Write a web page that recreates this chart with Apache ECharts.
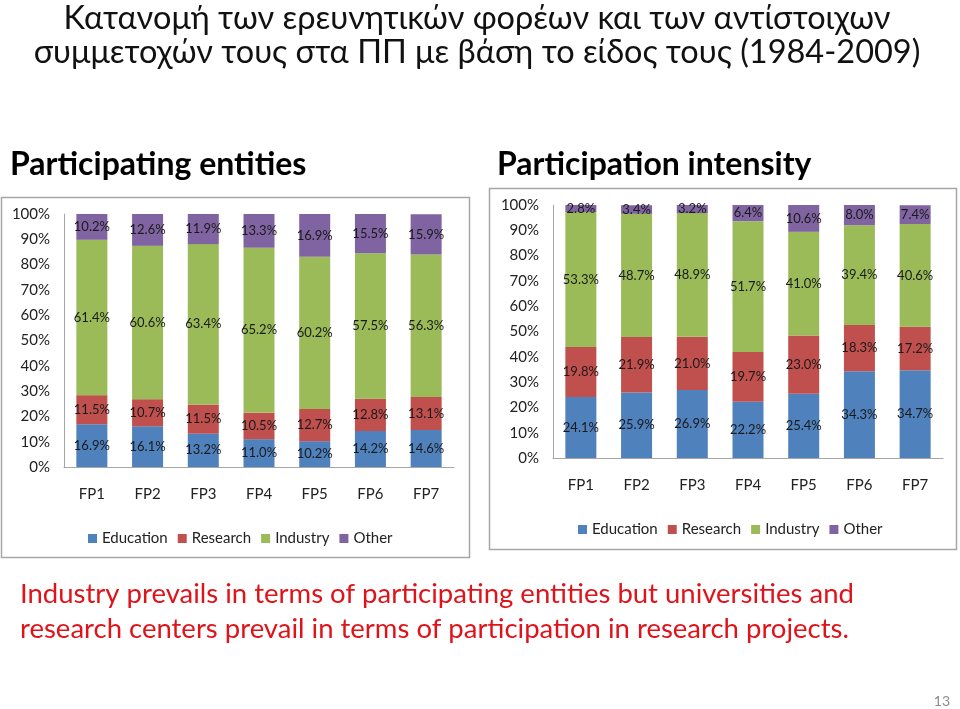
<!DOCTYPE html>
<html>
<head>
<meta charset="utf-8">
<script src="https://cdn.jsdelivr.net/npm/echarts@6/dist/echarts.min.js"></script>
<style>
html,body{margin:0;padding:0;background:#fff;}
#main{width:960px;height:709px;}
</style>
</head>
<body>
<div id="main"></div>
<script>
// ---- data ----
var categories = ['FP1', 'FP2', 'FP3', 'FP4', 'FP5', 'FP6', 'FP7'];
var seriesNames = ['Education', 'Research', 'Industry', 'Other'];
var yTicks = [0, 10, 20, 30, 40, 50, 60, 70, 80, 90, 100];

// Participating entities (%)
var entEducation = [16.9, 16.1, 13.2, 11.0, 10.2, 14.2, 14.6];
var entResearch  = [11.5, 10.7, 11.5, 10.5, 12.7, 12.8, 13.1];
var entIndustry  = [61.4, 60.6, 63.4, 65.2, 60.2, 57.5, 56.3];
var entOther     = [10.2, 12.6, 11.9, 13.3, 16.9, 15.5, 15.9];

// Participation intensity (%)
var intEducation = [24.1, 25.9, 26.9, 22.2, 25.4, 34.3, 34.7];
var intResearch  = [19.8, 21.9, 21.0, 19.7, 23.0, 18.3, 17.2];
var intIndustry  = [53.3, 48.7, 48.9, 51.7, 41.0, 39.4, 40.6];
var intOther     = [2.8, 3.4, 3.2, 6.4, 10.6, 8.0, 7.4];

var titleLine1 = 'Κατανομή των ερευνητικών φορέων και των αντίστοιχων';
var titleLine2 = 'συμμετοχών τους στα ΠΠ με βάση το είδος τους (1984-2009)';
var leftTitle = 'Participating entities';
var rightTitle = 'Participation intensity';
var note1 = 'Industry prevails in terms of participating entities but universities and';
var note2 = 'research centers prevail in terms of participation in research projects.';
var pageNo = '13';

// ---- styling ----
var colors = ['#4F81BD', '#C0504D', '#9BBB59', '#8064A2'];
var FONT = 'Lato, "Open Sans", sans-serif';

function makeSeries(name, data, idx, color) {
  return {
    name: name,
    type: 'bar',
    stack: 'total' + idx,
    xAxisIndex: idx,
    yAxisIndex: idx,
    data: data,
    barWidth: 31,
    itemStyle: { color: color },
    label: {
      show: true,
      position: 'inside',
      color: '#1a1a1a',
      fontFamily: FONT,
      fontSize: 13,
      formatter: function (p) { return p.value.toFixed(1) + '%'; }
    }
  };
}

var entData = [entEducation, entResearch, entIndustry, entOther];
var intData = [intEducation, intResearch, intIndustry, intOther];
var series = [];
for (var i = 0; i < 4; i++) series.push(makeSeries(seriesNames[i], entData[i], 0, colors[i]));
for (var j = 0; j < 4; j++) series.push(makeSeries(seriesNames[j], intData[j], 1, colors[j]));

function xAxisCfg(gi) {
  return {
    type: 'category', gridIndex: gi, data: categories,
    axisLine: { lineStyle: { color: '#a6a6a6', width: 1 } },
    axisTick: { show: false },
    axisLabel: { color: '#222', fontFamily: FONT, fontSize: 15, margin: 20 }
  };
}
function yAxisCfg(gi) {
  return {
    type: 'value', gridIndex: gi, min: yTicks[0], max: yTicks[yTicks.length - 1],
    interval: yTicks[1] - yTicks[0],
    axisLine: { show: true, lineStyle: { color: '#a6a6a6', width: 1 } },
    axisTick: { show: false },
    splitLine: { show: false },
    axisLabel: { color: '#222', fontFamily: FONT, fontSize: 15, margin: 14,
      formatter: '{value}%' }
  };
}

var chart = echarts.init(document.getElementById('main'), null, { renderer: 'canvas' });
chart.setOption({
  backgroundColor: '#ffffff',
  animation: false,
  color: colors,
  grid: [
    { left: 64, top: 214, width: 390, height: 253 },
    { left: 553, top: 205, width: 390, height: 253 }
  ],
  xAxis: [xAxisCfg(0), xAxisCfg(1)],
  yAxis: [yAxisCfg(0), yAxisCfg(1)],
  legend: [
    { data: seriesNames, left: 83, top: 526, itemWidth: 9, itemHeight: 9, itemGap: 10,
      icon: 'rect', textStyle: { color: '#222', fontFamily: FONT, fontSize: 15 },
      selectedMode: false },
    { data: seriesNames, left: 573, top: 517, itemWidth: 9, itemHeight: 9, itemGap: 10,
      icon: 'rect', textStyle: { color: '#222', fontFamily: FONT, fontSize: 15 },
      selectedMode: false }
  ],
  graphic: [
    { type: 'rect', shape: { x: 1.5, y: 197.5, width: 468, height: 360 }, z: -1,
      style: { fill: 'none', stroke: '#a6a6a6', lineWidth: 1.5 } },
    { type: 'rect', shape: { x: 489.5, y: 188.5, width: 467, height: 361 }, z: -1,
      style: { fill: 'none', stroke: '#a6a6a6', lineWidth: 1.5 } },
    { type: 'text', x: 477, y: 19, style: { text: titleLine1, fill: '#111',
      font: '32.5px ' + FONT, textAlign: 'center', textVerticalAlign: 'middle' } },
    { type: 'text', x: 477, y: 53, style: { text: titleLine2, fill: '#111',
      font: '32.5px ' + FONT, textAlign: 'center', textVerticalAlign: 'middle' } },
    { type: 'text', x: 10, y: 165, style: { text: leftTitle, fill: '#000',
      font: 'bold 32px ' + FONT, textAlign: 'left', textVerticalAlign: 'middle' } },
    { type: 'text', x: 497, y: 165, style: { text: rightTitle, fill: '#000',
      font: 'bold 32px ' + FONT, textAlign: 'left', textVerticalAlign: 'middle' } },
    { type: 'text', x: 20, y: 594, style: { text: note1, fill: '#E0131A',
      font: '27.5px ' + FONT, textAlign: 'left', textVerticalAlign: 'middle' } },
    { type: 'text', x: 20, y: 629, style: { text: note2, fill: '#E0131A',
      font: '27.5px ' + FONT, textAlign: 'left', textVerticalAlign: 'middle' } },
    { type: 'text', x: 950, y: 701, style: { text: pageNo, fill: '#8c8c8c',
      font: '14px ' + FONT, textAlign: 'right', textVerticalAlign: 'middle' } }
  ],
  series: series
});
</script>
</body>
</html>
